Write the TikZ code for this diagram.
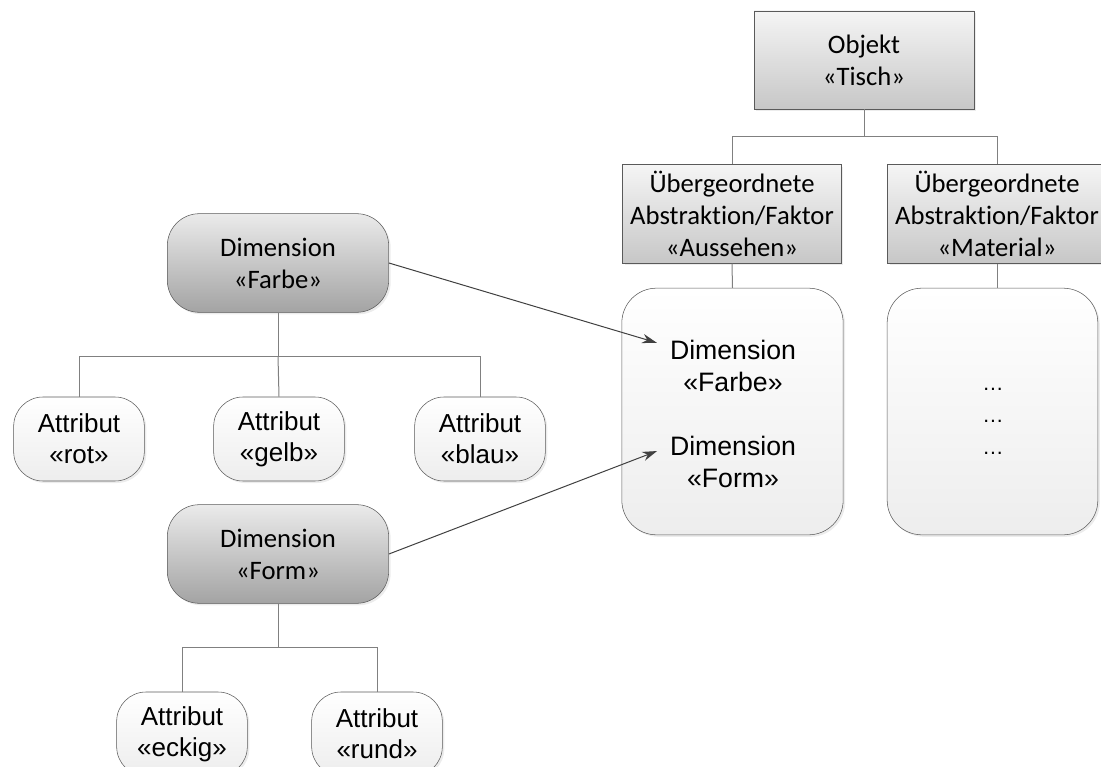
\documentclass[tikz,border=0pt]{standalone}
\usepackage{fontspec}
\setmainfont{Liberation Sans}
\newfontfamily\calibri[Ligatures=NoCommon]{Carlito}
\usetikzlibrary{shapes,arrows,arrows.meta,shadows}
\definecolor{linegray}{HTML}{808080}
\definecolor{bordergray}{HTML}{5A5A5A}
\definecolor{arrowgray}{HTML}{404040}
\tikzstyle{shade} = [drop shadow={shadow xshift=1.5pt, shadow yshift=-1.5pt, opacity=0.15}]
\tikzstyle{objbox} = [rectangle, draw=bordergray, top color=black!4, bottom color=black!22, align=center, font=\calibri\fontsize{20}{24}\selectfont, inner sep=0pt, shade]
\tikzstyle{dimbox} = [rectangle, rounded corners=24pt, draw=bordergray, top color=black!8, bottom color=black!36, align=center, font=\calibri\fontsize{20}{24}\selectfont, minimum width=166pt, minimum height=74pt, inner sep=0pt, shade]
\tikzstyle{attrbox} = [rectangle, rounded corners=22pt, draw=bordergray, top color=white, bottom color=black!7, align=center, font=\fontsize{19.5}{23.5}\selectfont, minimum width=98pt, minimum height=63pt, inner sep=0pt, shade]
\tikzstyle{groupbox} = [rectangle, rounded corners=26pt, draw=bordergray, top color=white, bottom color=black!7, minimum height=185pt, shade]
\tikzstyle{dimtext} = [align=center, font=\fontsize{20}{23.5}\selectfont, inner sep=3pt]
\tikzstyle{conn} = [draw=linegray, line width=0.75pt]
\tikzstyle{arrow} = [draw=arrowgray, line width=0.75pt, -{Stealth[length=11pt, width=7pt]}, shorten >=7pt]

\begin{document}
\begin{tikzpicture}[x=0.75pt, y=-0.75pt]
    \useasboundingbox (0,0) rectangle (1101,767);
    % Object and factors
    \node [objbox, minimum width=165pt, minimum height=73.5pt] (objekt) at (864,60) {Objekt\\«Tisch»};
    \node [objbox, minimum width=164pt, minimum height=74pt] (aussehen) at (732,214) {Übergeordnete\\Abstraktion/Faktor\\«Aussehen»};
    \node [objbox, minimum width=164pt, minimum height=74pt] (material) at (997,214) {Übergeordnete\\Abstraktion/Faktor\\«Material»};
    \node [groupbox, minimum width=166pt] (grpaussehen) at (732.5,411.5) {};
    \node [groupbox, minimum width=158pt] (grpmaterial) at (992.5,411.5) {};
    \node [dimtext] (infarbe) at (733,366) {Dimension\\«Farbe»};
    \node [dimtext] (inform) at (733,462) {Dimension\\«Form»};
    \node [align=center, font=\fontsize{16}{24}\selectfont] (dots) at (993,421) {…\\…\\…};

    % Dimensions and attributes
    \node [dimbox] (farbe) at (278,263) {Dimension\\«Farbe»};
    \node [attrbox] (rot) at (79,439) {Attribut\\«rot»};
    \node [attrbox] (gelb) at (279,439) {Attribut\\«gelb»};
    \node [attrbox] (blau) at (480,439) {Attribut\\«blau»};
    \node [dimbox] (form) at (278,554) {Dimension\\«Form»};
    \node [attrbox] (eckig) at (182,734) {Attribut\\«eckig»};
    \node [attrbox] (rund) at (377,734) {Attribut\\«rund»};

    % Tree lines
    \coordinate (forkobj) at (864,137);
    \coordinate (forkfarbe) at (278,356);
    \coordinate (forkform) at (278,647);
    \draw [conn] (objekt.south) -- (forkobj) -| (aussehen.north);
    \draw [conn] (forkobj) -| (material.north);
    \draw [conn] (aussehen.south) -- (grpaussehen.north);
    \draw [conn] (material.south) -- (material.south |- grpmaterial.north);
    \draw [conn] (farbe.south) -- (forkfarbe) -| (rot.north);
    \draw [conn] (forkfarbe) -- (gelb.north);
    \draw [conn] (forkfarbe) -| (blau.north);
    \draw [conn] (form.south) -- (forkform) -| (eckig.north);
    \draw [conn] (forkform) -| (rund.north);

    \draw [arrow] (farbe.east) -- (infarbe.163);
    \draw [arrow] (form.east) -- (inform.168);
\end{tikzpicture}
\end{document}
